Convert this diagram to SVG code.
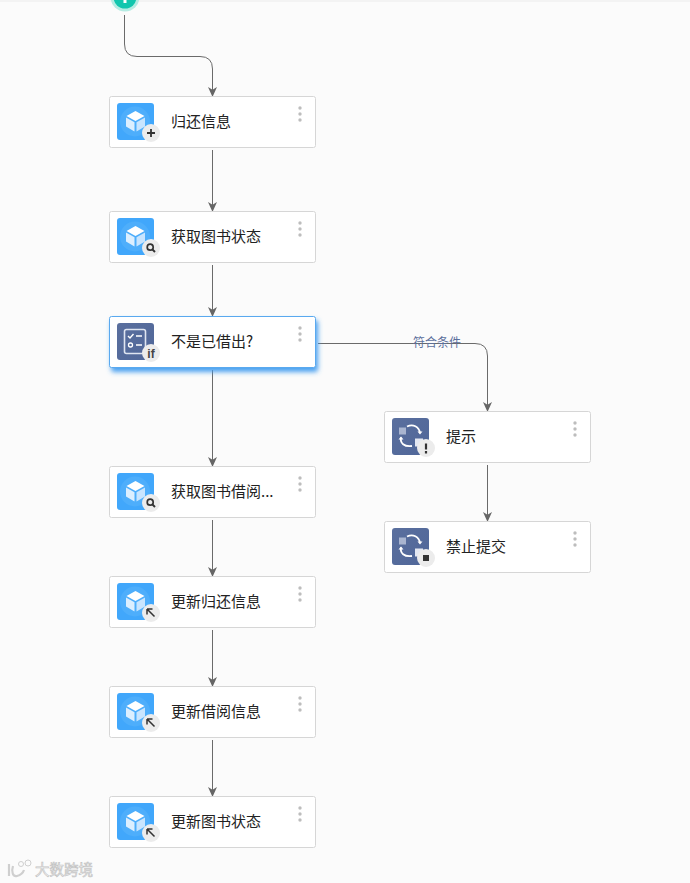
<svg xmlns="http://www.w3.org/2000/svg" width="690" height="883" viewBox="0 0 690 883">
<style>
.card{fill:#fff;stroke:#d6d6d6;stroke-width:1}
.t{font-family:"Noto Sans CJK SC","Liberation Sans",sans-serif;font-size:15px;fill:#222}
.c{fill:none;stroke:#6a6a6a;stroke-width:1}
.dot{fill:#bdbdbd}
.b{fill:#ececec}
.wm{font-family:"Noto Sans CJK SC","Liberation Sans",sans-serif;font-size:14.500px;fill:#fff;stroke:#c4c4c4;stroke-width:.7}
</style>
<defs>
<marker id="a" markerUnits="userSpaceOnUse" markerWidth="10" markerHeight="10" refX="10" refY="5" orient="auto" viewBox="0 0 10 10"><path d="M0 .5L2.800 5L0 9.500L10 5Z" fill="#666"/></marker>
<filter id="sh" x="-10%" y="-20%" width="120%" height="170%"><feDropShadow dx="2" dy="4" stdDeviation="2.500" flood-color="#3f9bf0" flood-opacity=".95"/></filter>
<linearGradient id="ng" x1="0" y1="0" x2="1" y2="1"><stop offset="0" stop-color="#5a6f9e"/><stop offset="1" stop-color="#506799"/></linearGradient>
<g id="cube">
<rect width="37" height="37" rx="3" fill="#41a7fb"/>
<circle cx="18" cy="18.500" r="15" fill="#4eaefb"/>
<path d="M18.500 8L27.500 13L18.500 18L9.500 13Z" fill="#fff"/>
<path d="M9 14.500L17.500 19.300V28.500L9 23.500Z" fill="#dcefff"/>
<path d="M28 14.500L19.500 19.300V28.500L28 23.500Z" fill="#c8e5ff"/>
</g>
<g id="proc">
<rect width="37" height="37" rx="3" fill="url(#ng)"/>
<rect x="7" y="9.500" width="7" height="7" fill="#a9b5d0"/>
<path d="M15 8.500C21 5.500 27 8.500 28 15" fill="none" stroke="#fff" stroke-width="1.800"/>
<path d="M25.500 13.500L28 16.500L30.500 13.500Z" fill="#fff"/>
<path d="M9 19.500C8 25 12 29 20 28" fill="none" stroke="#fff" stroke-width="1.800"/>
<path d="M6.500 21.500L9 18.500L11.500 21.500Z" fill="#fff"/>
<rect x="23" y="20.500" width="8" height="8" fill="#e4e8f2"/>
</g>
<g id="menu"><circle cx="0" cy="0" r="1.700" class="dot"/><circle cx="0" cy="6" r="1.700" class="dot"/><circle cx="0" cy="12" r="1.700" class="dot"/></g>
<g id="arrow"><circle r="9" class="b"/><path d="M-4-4H1.500M-4-4V1.500M-4-4L3.500 3.500" fill="none" stroke="#333" stroke-width="1.500"/></g>
<g id="search"><circle r="9" class="b"/><circle cx="-.8" cy="-.8" r="3" fill="none" stroke="#333" stroke-width="1.700"/><path d="M1.400 1.400L4 4" stroke="#333" stroke-width="2"/></g>
</defs>
<rect width="690" height="883" fill="#fbfbfb"/>
<rect width="690" height="2" fill="#f3f3f3"/>
<g id="connectors">
<path class="c" marker-end="url(#a)" d="M124.500 15V44Q124.500 56.500 137 56.500H200Q212.500 56.500 212.500 69V97"/>
<path class="c" marker-end="url(#a)" d="M212.500 150V212"/>
<path class="c" marker-end="url(#a)" d="M212.500 265V317"/>
<path class="c" marker-end="url(#a)" d="M212.500 370V467"/>
<path class="c" marker-end="url(#a)" d="M212.500 520V577"/>
<path class="c" marker-end="url(#a)" d="M212.500 630V687"/>
<path class="c" marker-end="url(#a)" d="M212.500 740V797"/>
<path class="c" marker-end="url(#a)" d="M318 343.500H475Q487.500 343.500 487.500 356V412"/>
<path class="c" marker-end="url(#a)" d="M487.500 465V522"/>
<text x="413" y="347" font-family="'Noto Sans CJK SC','Liberation Sans',sans-serif" font-size="12" fill="#5b6f9c">符合条件</text>
</g>
<g id="start"><circle cx="125" cy="-3" r="14.500" fill="#b5ece3"/><circle cx="125" cy="-3" r="11.500" fill="#12c6ae"/><rect x="123.500" y="0" width="3" height="3" fill="#fff"/></g>
<g id="n1"><rect class="card" x="109.500" y="96.500" width="206" height="51" rx="2"/><use href="#cube" x="117" y="103"/><circle cx="151" cy="133" r="9" class="b"/><path d="M147 133H155M151 129V137" stroke="#333" stroke-width="1.800"/><text class="t" x="171" y="127">归还信息</text><use href="#menu" x="300" y="108"/></g>
<g id="n2"><rect class="card" x="109.500" y="211.500" width="206" height="51" rx="2"/><use href="#cube" x="117" y="218"/><use href="#search" x="151" y="248"/><text class="t" x="171" y="242">获取图书状态</text><use href="#menu" x="300" y="223"/></g>
<g id="n3"><rect x="109.500" y="316.500" width="206" height="51" rx="2" fill="#fff" stroke="#5aa9ef" filter="url(#sh)"/><rect x="117" y="323" width="37" height="37" rx="3" fill="url(#ng)"/><rect x="124.500" y="329.500" width="21" height="24" rx="2" fill="none" stroke="#dfe5f1" stroke-width="1.600"/><path d="M128 336L130 338L133.500 334" fill="none" stroke="#fff" stroke-width="1.400"/><path d="M136 336H142M136 345H142" stroke="#fff" stroke-width="1.400"/><circle cx="130.500" cy="345" r="2" fill="none" stroke="#fff" stroke-width="1.300"/><circle cx="151" cy="353" r="9" class="b"/><text x="151" y="358" text-anchor="middle" font-family="'Liberation Sans',sans-serif" font-size="12" font-weight="700" fill="#444">if</text><text class="t" x="171" y="347">不是已借出?</text><use href="#menu" x="300" y="328"/></g>
<g id="n4"><rect class="card" x="109.500" y="466.500" width="206" height="51" rx="2"/><use href="#cube" x="117" y="473"/><use href="#search" x="151" y="503"/><text class="t" x="171" y="497">获取图书借阅...</text><use href="#menu" x="300" y="478"/></g>
<g id="n5"><rect class="card" x="109.500" y="576.500" width="206" height="51" rx="2"/><use href="#cube" x="117" y="583"/><use href="#arrow" x="151" y="613"/><text class="t" x="171" y="607">更新归还信息</text><use href="#menu" x="300" y="588"/></g>
<g id="n6"><rect class="card" x="109.500" y="686.500" width="206" height="51" rx="2"/><use href="#cube" x="117" y="693"/><use href="#arrow" x="151" y="723"/><text class="t" x="171" y="717">更新借阅信息</text><use href="#menu" x="300" y="698"/></g>
<g id="n7"><rect class="card" x="109.500" y="796.500" width="206" height="51" rx="2"/><use href="#cube" x="117" y="803"/><use href="#arrow" x="151" y="833"/><text class="t" x="171" y="827">更新图书状态</text><use href="#menu" x="300" y="808"/></g>
<g id="n8"><rect class="card" x="384.500" y="411.500" width="206" height="51" rx="2"/><use href="#proc" x="392" y="418"/><circle cx="426" cy="448" r="9" class="b"/><path d="M426 443.500V449.500M426 451V453.500" stroke="#333" stroke-width="2.200"/><text class="t" x="446" y="442">提示</text><use href="#menu" x="575" y="423"/></g>
<g id="n9"><rect class="card" x="384.500" y="521.500" width="206" height="51" rx="2"/><use href="#proc" x="392" y="528"/><circle cx="426" cy="558" r="9" class="b"/><rect x="423" y="555" width="6" height="6" fill="#333"/><text class="t" x="446" y="552">禁止提交</text><use href="#menu" x="575" y="533"/></g>
<g id="watermark"><path d="M9 864V876M13 866C11 872 13 877 17 876C21 875 23 873 24 870" fill="none" stroke="#cfcfcf" stroke-width="2.200"/><circle cx="21" cy="864" r="2.500" fill="none" stroke="#cfcfcf"/><circle cx="28" cy="863" r="3" fill="none" stroke="#cfcfcf"/><text class="wm" x="35" y="875">大数跨境</text></g>
</svg>
